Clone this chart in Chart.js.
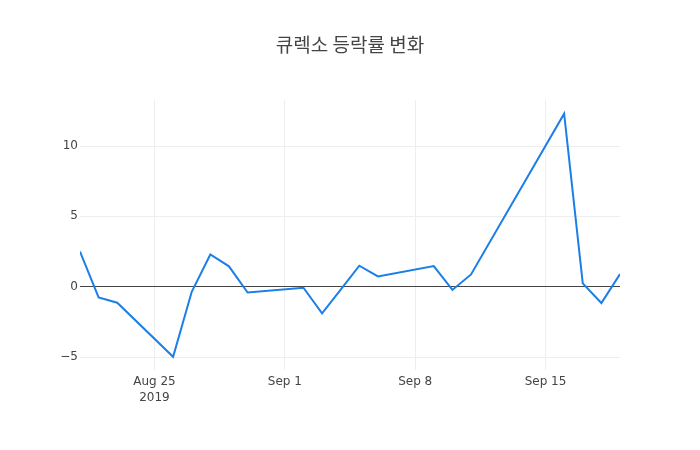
<!DOCTYPE html>
<html>
<head>
<meta charset="utf-8">
<script src="https://cdn.jsdelivr.net/npm/chart.js@4"></script>
<style>
    html, body { margin: 0; padding: 0; background: #fff; }
    #wrap { width: 700px; height: 450px; position: relative; }
</style>
</head>
<body>
<div id="wrap"><canvas id="rateChart"></canvas></div>
<script>
// 큐렉소 daily change (%), trading days only
const dates = [
    '2019-08-21', '2019-08-22', '2019-08-23', '2019-08-26', '2019-08-27',
    '2019-08-28', '2019-08-29', '2019-08-30', '2019-09-02', '2019-09-03',
    '2019-09-04', '2019-09-05', '2019-09-06', '2019-09-09', '2019-09-10',
    '2019-09-11', '2019-09-16', '2019-09-17', '2019-09-18', '2019-09-19'
];
const changes = [
    2.50, -0.76, -1.14, -4.98, -0.36,
    2.29, 1.45, -0.41, -0.07, -1.89,
    -0.20, 1.49, 0.73, 1.47, -0.23,
    0.87, 12.30, 0.24, -1.16, 0.90
];
const tickDates = ['2019-08-25', '2019-09-01', '2019-09-08', '2019-09-15'];
const tickLabels = [['Aug 25', '2019'], 'Sep 1', 'Sep 8', 'Sep 15'];
const yTicks = [-5, 0, 5, 10];

const colors = {
    line: '#1a7fe6',
    grid: '#eeeeee',
    zero: '#444444',
    text: '#444444'
};

// day number since epoch, so the x axis can stay linear
const dayNum = (s) => {
    const [y, m, d] = s.split('-').map(Number);
    return Date.UTC(y, m - 1, d) / 86400000;
};

const points = dates.map((d, i) => ({ x: dayNum(d), y: changes[i] }));
const tickPos = tickDates.map(dayNum);

Chart.defaults.font.family = "'DejaVu Sans', Verdana, sans-serif";
Chart.defaults.color = colors.text;

new Chart(document.getElementById('rateChart'), {
    type: 'line',
    data: {
        datasets: [{
            label: '등락률',
            data: points,
            borderColor: colors.line,
            borderWidth: 2,
            pointRadius: 0,
            tension: 0,
            fill: false
        }]
    },
    options: {
        responsive: true,
        maintainAspectRatio: false,
        animation: false,
        layout: { padding: 0 },
        plugins: {
            legend: { display: false },
            tooltip: { enabled: false },
            title: {
                display: true,
                text: '큐렉소 등락률 변화',
                color: colors.text,
                font: { family: "'Noto Sans CJK KR', sans-serif", size: 19, weight: 'normal', lineHeight: 1.2 },
                padding: { top: 33.6, bottom: 43.6 }
            }
        },
        scales: {
            x: {
                type: 'linear',
                min: dayNum(dates[0]),
                max: dayNum(dates[dates.length - 1]),
                afterBuildTicks: (scale) => {
                    scale.ticks = tickPos.map(v => ({ value: v }));
                },
                afterFit: (scale) => { scale.height = 80; },
                grid: { color: colors.grid, drawTicks: false },
                border: { display: false },
                ticks: {
                    padding: 4,
                    maxRotation: 0,
                    autoSkip: false,
                    font: { size: 12, lineHeight: 1.3 },
                    callback: (value) => {
                        const i = tickPos.indexOf(value);
                        return i >= 0 ? tickLabels[i] : '';
                    }
                }
            },
            y: {
                min: -5.92,
                max: 13.27,
                afterBuildTicks: (scale) => {
                    scale.ticks = yTicks.map(v => ({ value: v }));
                },
                afterFit: (scale) => { scale.width = 80; },
                grid: {
                    drawTicks: false,
                    color: (ctx) => ctx.tick && ctx.tick.value === 0 ? colors.zero : colors.grid
                },
                border: { display: false },
                ticks: {
                    padding: 2,
                    font: { size: 12 },
                    callback: (value) => value < 0 ? '\u2212' + Math.abs(value) : String(value)
                }
            },
            // empty right axis keeps an 80px right margin so the title centres on the page
            yRight: {
                position: 'right',
                afterFit: (scale) => { scale.width = 80; },
                grid: { display: false },
                border: { display: false },
                ticks: { display: false }
            }
        }
    }
});
</script>
</body>
</html>
